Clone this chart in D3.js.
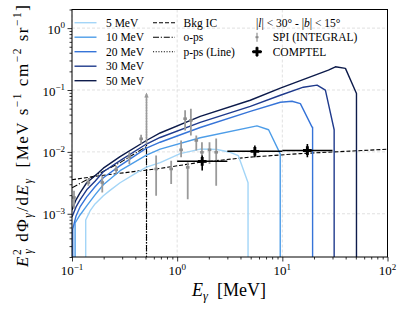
<!DOCTYPE html>
<html><head><meta charset="utf-8">
<script src="https://cdn.jsdelivr.net/npm/d3@7"></script>
<style>
body{margin:0;background:#fff}
svg{display:block}
text{font-family:"Liberation Serif","DejaVu Serif",serif;fill:#000}
</style></head>
<body><svg id="c" width="407" height="312"></svg>
<script>
// ---------- data ----------
const massLabels = ["5 MeV","10 MeV","20 MeV","30 MeV","50 MeV"];
const massColors = ["#a3d5f7","#4d9de8","#3674d8","#1f3a8c","#0d1b4b"];

const m5E  = [0.135,0.135,0.1484,0.1656,0.1986,0.23,0.2865,0.4132,0.51,0.6888,1.068,1.656,2.388,3.198,3.811,4.72,4.72];
const m5F  = [2e-4,0.000793,0.00111,0.00144,0.00195,0.00239,0.00317,0.00461,0.00566,0.0067,0.00938,0.0111,0.0109,0.00985,0.00871,0.00317,2e-4];
const m10E = [0.107,0.107,0.1192,0.138,0.1656,0.1986,0.2865,0.51,0.6888,1.656,5.741,7.405,9.55,9.55];
const m10F = [2e-4,0.000709,0.000956,0.00134,0.00202,0.00294,0.00497,0.00887,0.0111,0.01689,0.0263,0.0228,0.00928,2e-4];
const m20E = [0.1016,0.1016,0.1092,0.1192,0.138,0.1656,0.1986,0.2865,0.51,0.6888,1.656,4.957,9.572,12.37,14.84,19.18,19.4,19.4];
const m20F = [2e-4,0.000566,0.000921,0.00129,0.00187,0.00273,0.00382,0.00599,0.01153,0.01432,0.0248,0.0452,0.0633,0.0657,0.0603,0.0251,0.0251,2e-4];
const m30E = [0.1,0.1092,0.1192,0.138,0.1656,0.1986,0.2865,0.51,0.6888,1.656,4.957,9.572,15.85,21.41,25.67,31.1,31.1];
const m30F = [0.000887,0.00129,0.00168,0.00244,0.00335,0.00478,0.00722,0.01339,0.01708,0.0300,0.0545,0.0823,0.1110,0.1197,0.0992,0.0228,2e-4];
const m50E = [0.1,0.1092,0.1192,0.138,0.1656,0.1986,0.2865,0.51,0.6888,1.656,4.957,9.572,14.84,27.42,31.98,39.81,50.7,50.7];
const m50F = [0.00115,0.00168,0.00218,0.00317,0.00412,0.00545,0.00839,0.01527,0.0202,0.0375,0.0683,0.1070,0.1416,0.2099,0.2374,0.2237,0.0877,2e-4];

const bkgE = [0.1,0.1849,0.6888,1.656,4.957,14.84,100];
const bkgF = [0.00355,0.00412,0.00541,0.00678,0.00823,0.00938,0.01102];
const opsE = [0.1,0.138,0.1849,0.2865,0.511,0.511];
const opsF = [0.00263,0.00354,0.00455,0.0067,0.0122,2e-4];
const ppsE = [0.511,0.511];
const ppsF = [2e-4,0.088];

const spiE  = [0.1045,0.143,0.194,0.263,0.351,0.454,0.631,0.877,1.09,1.19,1.26,1.35,1.52,1.72,2.03,2.35];
const spiF  = [0.00183,0.0032,0.0032,0.00515,0.00839,0.01627,0.00529,0.00529,0.0108,0.0344,0.00562,0.0323,0.0153,0.00985,0.0108,0.00985];
const spiLo = [0.0012,0.00283,0.0022,0.00444,0.00638,0.0135,0.00195,0.00302,0.00817,0.0222,0.00172,0.0184,0.0105,0.00678,0.00638,0.00283];
const spiHi = [0.00235,0.00368,0.00412,0.00598,0.00985,0.0189,0.0087,0.0072,0.0153,0.047,0.00678,0.050,0.0184,0.0143,0.0143,0.0164];
const spiArrowE = 0.511, spiArrowLo = 0.0135, spiArrowHi = 0.088;

const compE   = [1.73,5.48,17.3];
const compElo = [1,3,10];
const compEhi = [3,10,30];
const compF   = [0.00703,0.0102,0.0105];
const compFlo = [0.0050,0.0082,0.0082];
const compFhi = [0.0087,0.0127,0.0134];

const xTicks = [0.1,1,10,100], xTickExp = ["\u22121","0","1","2"];
const yTicks = [0.001,0.01,0.1,1], yTickExp = ["\u22123","\u22122","\u22121","0"];

// ---------- layout ----------
const L=72, R=387.5, T=9.5, B=257;
const svg = d3.select("#c");
const x = d3.scaleLog().domain([0.1,100]).range([L,R]);
const y = d3.scaleLog().domain([2e-4,2]).range([B,T]);

svg.append("defs").append("clipPath").attr("id","clip")
  .append("rect").attr("x",L).attr("y",T).attr("width",R-L).attr("height",B-T);

// grid
const grid = svg.append("g").attr("stroke","#d9d9d9").attr("stroke-width",0.8).attr("stroke-dasharray","3,2");
xTicks.forEach(v=>grid.append("line").attr("x1",x(v)).attr("x2",x(v)).attr("y1",T).attr("y2",B));
yTicks.forEach(v=>grid.append("line").attr("y1",y(v)).attr("y2",y(v)).attr("x1",L).attr("x2",R));

// minor tick values
const xMinor=[], yMinor=[];
[0.1,1,10].forEach(d=>{for(let k=2;k<=9;k++) xMinor.push(d*k);});
[1e-4,1e-3,1e-2,1e-1,1].forEach(d=>{for(let k=2;k<=9;k++){const v=d*k; if(v>=2e-4 && v<=2) yMinor.push(v);}});

const ax = svg.append("g").attr("transform",`translate(0,${B})`);
ax.call(d3.axisBottom(x).tickValues(xTicks).tickSize(4.5).tickFormat(""));
const axm = svg.append("g").attr("transform",`translate(0,${B})`);
axm.call(d3.axisBottom(x).tickValues(xMinor).tickSize(2.5).tickFormat(""));
const ay = svg.append("g").attr("transform",`translate(${L},0)`);
ay.call(d3.axisLeft(y).tickValues(yTicks).tickSize(4.5).tickFormat(""));
const aym = svg.append("g").attr("transform",`translate(${L},0)`);
aym.call(d3.axisLeft(y).tickValues(yMinor).tickSize(2.5).tickFormat(""));
svg.selectAll(".domain").remove();
svg.selectAll(".tick line").attr("stroke","#000").attr("stroke-width",0.8);

// tick labels
xTicks.forEach((v,i)=>{
  const t=svg.append("text").attr("x",x(v)).attr("y",275).attr("text-anchor","middle").attr("font-size",13);
  t.append("tspan").text("10");
  t.append("tspan").attr("font-size",9).attr("dy",-5.5).text(xTickExp[i]);
});
yTicks.forEach((v,i)=>{
  const t=svg.append("text").attr("x",65).attr("y",y(v)+5.5).attr("text-anchor","end").attr("font-size",13);
  t.append("tspan").text("10");
  t.append("tspan").attr("font-size",9).attr("dy",-5.5).text(yTickExp[i]);
});

// plot content
const plot = svg.append("g").attr("clip-path","url(#clip)");
const line = d3.line().x(d=>x(d[0])).y(d=>y(d[1]));
const zip=(a,b)=>a.map((v,i)=>[v,b[i]]);

plot.append("path").attr("d",line(zip(bkgE,bkgF))).attr("fill","none").attr("stroke","#000").attr("stroke-width",1.1).attr("stroke-dasharray","4,2");
plot.append("path").attr("d",line(zip(opsE,opsF))).attr("fill","none").attr("stroke","#000").attr("stroke-width",1.1).attr("stroke-dasharray","6,1.8,1.2,1.8");
plot.append("path").attr("d",line(zip(ppsE,ppsF))).attr("fill","none").attr("stroke","#000").attr("stroke-width",1.2).attr("stroke-dasharray","1.2,1.5");

const models=[[m5E,m5F],[m10E,m10F],[m20E,m20F],[m30E,m30F],[m50E,m50F]];
models.forEach((m,i)=>{
  plot.append("path").attr("d",line(zip(m[0],m[1]))).attr("fill","none")
    .attr("stroke",massColors[i]).attr("stroke-width",1.4).attr("stroke-linejoin","round");
});

// SPI points
const spiG = plot.append("g");
spiE.forEach((e,i)=>{
  spiG.append("line").attr("x1",x(e)).attr("x2",x(e)).attr("y1",y(spiLo[i])).attr("y2",y(spiHi[i]))
    .attr("stroke","#9a9a9a").attr("stroke-width",1.8);
  spiG.append("rect").attr("x",x(e)-1.8).attr("y",y(spiF[i])-1.3).attr("width",3.6).attr("height",2.6).attr("fill","#8c8c8c");
});
spiG.append("line").attr("x1",x(spiArrowE)).attr("x2",x(spiArrowE)).attr("y1",y(spiArrowLo)).attr("y2",y(spiArrowHi)+3)
  .attr("stroke","#9a9a9a").attr("stroke-width",1.6);
spiG.append("path").attr("d",`M${x(spiArrowE)-2.2},${y(spiArrowHi)+4}L${x(spiArrowE)},${y(spiArrowHi)-1}L${x(spiArrowE)+2.2},${y(spiArrowHi)+4}Z`).attr("fill","#9a9a9a");

// COMPTEL points
const cG = plot.append("g");
compE.forEach((e,i)=>{
  cG.append("line").attr("x1",x(compElo[i])).attr("x2",x(compEhi[i])).attr("y1",y(compF[i])).attr("y2",y(compF[i]))
    .attr("stroke","#000").attr("stroke-width",1.5);
  cG.append("line").attr("x1",x(e)).attr("x2",x(e)).attr("y1",y(compFlo[i])).attr("y2",y(compFhi[i]))
    .attr("stroke","#000").attr("stroke-width",1.6);
  cG.append("path").attr("d",d3.symbol().type(d3.symbolCross).size(42)()).attr("transform",`translate(${x(e)},${y(compF[i])})`).attr("fill","#000");
});

// frame
svg.append("rect").attr("x",L).attr("y",T).attr("width",R-L).attr("height",B-T).attr("fill","none").attr("stroke","#000").attr("stroke-width",1);

// legend
const lg = svg.append("g").attr("font-size",11.5);
const row0=22.7, step=14.5;
massLabels.forEach((s,i)=>{
  const yy=row0+i*step;
  lg.append("line").attr("x1",74.5).attr("x2",96.5).attr("y1",yy).attr("y2",yy).attr("stroke",massColors[i]).attr("stroke-width",1.4);
  lg.append("text").attr("x",106).attr("y",yy+4).text(s);
});
const otherLabels=["Bkg IC","o-ps","p-ps (Line)"];
const otherDash=["4,2","6,1.8,1.2,1.8","1.1,1.6"];
otherLabels.forEach((s,i)=>{
  const yy=row0+i*step;
  lg.append("line").attr("x1",153).attr("x2",175).attr("y1",yy).attr("y2",yy).attr("stroke","#000").attr("stroke-width",1.1).attr("stroke-dasharray",otherDash[i]);
  lg.append("text").attr("x",183.5).attr("y",yy+4).text(s);
});
// region title
const tt = lg.append("text").attr("x",256).attr("y",row0+4);
tt.append("tspan").text("|");
tt.append("tspan").attr("font-style","italic").text("l");
tt.append("tspan").text("| < 30\u00B0 - |");
tt.append("tspan").attr("font-style","italic").text("b");
tt.append("tspan").text("| < 15\u00B0");
// SPI legend
{
  const yy=row0+step, mx=257;
  lg.append("line").attr("x1",mx).attr("x2",mx).attr("y1",yy-4.5).attr("y2",yy+4.5).attr("stroke","#9a9a9a").attr("stroke-width",1.3);
  lg.append("rect").attr("x",mx-1.5).attr("y",yy-1).attr("width",3).attr("height",2).attr("fill","#8c8c8c");
  lg.append("text").attr("x",272.7).attr("y",yy+4).text("SPI (INTEGRAL)");
}
{
  const yy=row0+2*step, mx=257;
  lg.append("line").attr("x1",mx-5).attr("x2",mx+5).attr("y1",yy).attr("y2",yy).attr("stroke","#000").attr("stroke-width",1.5);
  lg.append("line").attr("x1",mx).attr("x2",mx).attr("y1",yy-5).attr("y2",yy+5).attr("stroke","#000").attr("stroke-width",1.5);
  lg.append("path").attr("d",d3.symbol().type(d3.symbolCross).size(42)()).attr("transform",`translate(${mx},${yy})`).attr("fill","#000");
  lg.append("text").attr("x",272.7).attr("y",yy+4).text("COMPTEL");
}

// axis titles
const xt = svg.append("text").attr("x",229).attr("y",296).attr("text-anchor","middle").attr("font-size",18);
xt.append("tspan").attr("font-style","italic").text("E");
xt.append("tspan").attr("font-style","italic").attr("font-size",12.5).attr("dy",4).text("\u03B3");
xt.append("tspan").attr("dy",-4).text("\u2002[MeV]");

const yt = svg.append("text").attr("transform","translate(28,136) rotate(-90)").attr("text-anchor","middle").attr("font-size",17)
  .attr("textLength",262).attr("lengthAdjust","spacing");
yt.append("tspan").attr("font-style","italic").text("E");
yt.append("tspan").attr("font-size",11.5).attr("dy",-7).text("2");
yt.append("tspan").attr("font-size",11.5).attr("font-style","italic").attr("dx",-5.8).attr("dy",11).text("\u03B3");
yt.append("tspan").attr("dy",-4).text(" d\u03A6");
yt.append("tspan").attr("font-size",11.5).attr("font-style","italic").attr("dy",4).text("\u03B3");
yt.append("tspan").attr("dy",-4).text("/d");
yt.append("tspan").attr("font-style","italic").text("E");
yt.append("tspan").attr("font-size",11.5).attr("font-style","italic").attr("dy",4).text("\u03B3");
yt.append("tspan").attr("dy",-4).text("\u2002[MeV s");
yt.append("tspan").attr("font-size",11.5).attr("dy",-7).text("\u22121");
yt.append("tspan").attr("dy",7).text(" cm");
yt.append("tspan").attr("font-size",11.5).attr("dy",-7).text("\u22122");
yt.append("tspan").attr("dy",7).text(" sr");
yt.append("tspan").attr("font-size",11.5).attr("dy",-7).text("\u22121");
yt.append("tspan").attr("dy",7).text("]");
</script>
</body></html>
